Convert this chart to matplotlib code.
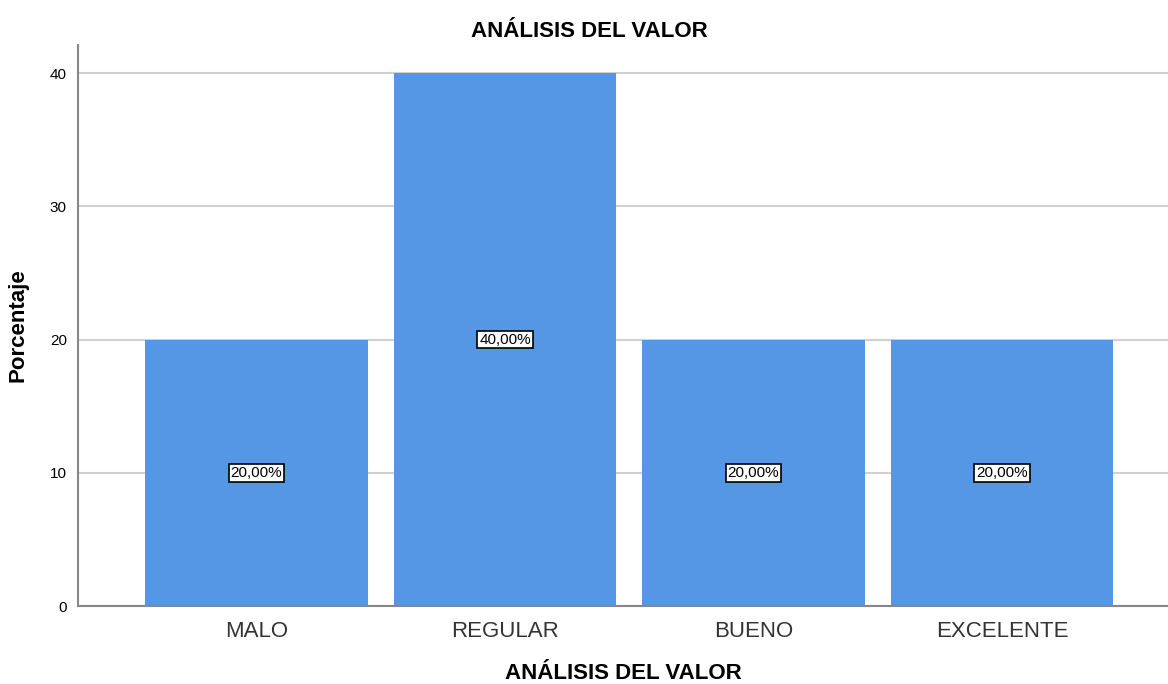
import matplotlib.pyplot as plt

plt.rcParams['font.family'] = ['Liberation Sans', 'DejaVu Sans']

# Data
categorias = ["MALO", "REGULAR", "BUENO", "EXCELENTE"]
porcentajes = [20, 40, 20, 20]
etiquetas = ["20,00%", "40,00%", "20,00%", "20,00%"]

fig = plt.figure(figsize=(11.68, 6.84), dpi=100)
ax = fig.add_axes([0.0668, 0.114, 0.9332, 0.82])

pos = list(range(len(categorias)))
ax.bar(pos, porcentajes, width=0.897, color="#5596e5", zorder=2)

for p, v, t in zip(pos, porcentajes, etiquetas):
    ax.text(p, v / 2, t, ha="center", va="center", fontsize=11, color="black",
            bbox=dict(boxstyle="square,pad=0.12", facecolor="white", edgecolor="black", linewidth=1.2),
            zorder=3)

ax.set_xlim(-0.718, 3.668)
ax.set_ylim(0, 42.1)
ax.set_yticks([0, 10, 20, 30, 40])
ax.set_xticks(pos)
ax.set_xticklabels(categorias, fontsize=16, color="#333333")
ax.tick_params(axis="both", length=0)
ax.tick_params(axis="y", labelsize=11, pad=8)
ax.tick_params(axis="x", pad=11)

ax.yaxis.grid(True, color="#d0d0d0", linewidth=1.5, zorder=0)
ax.set_axisbelow(True)
for s in ["top", "right"]:
    ax.spines[s].set_visible(False)
ax.spines["left"].set_color("#888888")
ax.spines["bottom"].set_color("#888888")
ax.spines["left"].set_linewidth(1.5)
ax.spines["bottom"].set_linewidth(1.5)

ax.set_ylabel("Porcentaje", fontsize=16, fontweight="bold")
ax.yaxis.set_label_coords(-0.045, 0.5)
ax.set_xlabel("ANÁLISIS DEL VALOR", fontsize=16, fontweight="bold", labelpad=15)
fig.suptitle("ANÁLISIS DEL VALOR", x=0.505, y=0.97, fontsize=16, fontweight="bold")

fig.savefig("out.png", dpi=100)
